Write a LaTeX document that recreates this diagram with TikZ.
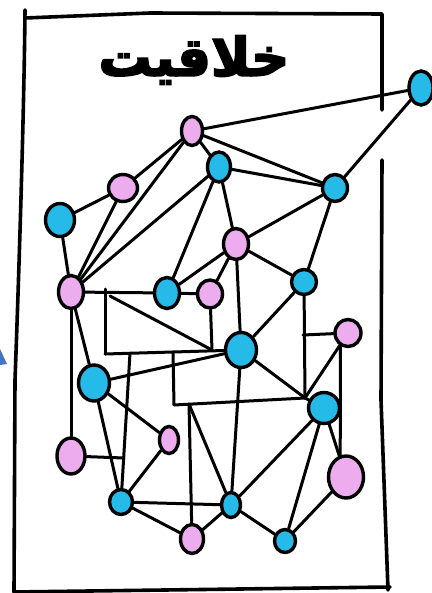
\documentclass[tikz,border=0pt]{standalone}
\usepackage{fontspec}
\usetikzlibrary{shapes.geometric}
\TeXXeTstate=1
\newfontfamily\arabicfont[Script=Arabic, BoldFeatures={FakeBold=3.5}]{DejaVu Sans}
\definecolor{cyanN}{RGB}{38,186,232}
\definecolor{pinkN}{RGB}{236,172,238}
\definecolor{tri}{RGB}{68,114,196}
\tikzset{
  nd/.style={ellipse, draw=black, line width=3.4pt, inner sep=0pt},
  cy/.style={nd, fill=cyanN},
  pk/.style={nd, fill=pinkN},
  edge/.style={line width=3pt, line cap=round},
  frame/.style={line width=3.6pt, line cap=round, line join=round}
}
\newcommand{\nodeat}[6]{\node[#1, minimum width=#5pt, minimum height=#6pt] (#2) at (#3,#4) {};}
\begin{document}
\begin{tikzpicture}[x=1pt,y=-1pt]
\useasboundingbox (0,0) rectangle (431,593);
\fill[white] (0,0) rectangle (431,593);
% frame
\draw[frame] (25,10) .. controls (24,120) and (18,300) .. (15,380) -- (14,592);
\draw[frame] (25,18) -- (150,13) -- (382,14) -- (382,110);
\draw[frame] (382,160) -- (381,400) -- (388,590);
\draw[frame] (14,592) -- (390,587);
\fill[tri] (0,349) -- (7,364) -- (0,365) -- cycle;
% title
\node (title) at (194,60) {\arabicfont\bfseries\fontsize{53}{53}\selectfont\beginR خلاقیت\endR};
% nodes
\nodeat{cy}{out}{421}{88}{24}{34}
\nodeat{pk}{P1}{192}{131}{21}{29}
\nodeat{cy}{C1}{219}{167}{23}{30}
\nodeat{cy}{C2}{335}{188}{25}{27}
\nodeat{pk}{P2}{123}{188}{29}{27}
\nodeat{cy}{C3}{60}{220}{29}{33}
\nodeat{pk}{P3}{236}{244}{25}{31}
\nodeat{pk}{P4}{71}{292}{25}{33}
\nodeat{cy}{C4}{167}{293}{25}{31}
\nodeat{pk}{P5}{210}{294}{25}{28}
\nodeat{cy}{C5}{304}{282}{25}{25}
\nodeat{pk}{P6}{348}{333}{26}{27}
\nodeat{cy}{C6}{241}{350}{31}{35}
\nodeat{cy}{C7}{94}{383}{31}{36}
\nodeat{cy}{C8}{324}{408}{31}{31}
\nodeat{pk}{P7}{169}{440}{19}{27}
\nodeat{pk}{P8}{71}{456}{28}{36}
\nodeat{pk}{P9}{346}{477}{35}{42}
\nodeat{cy}{C9}{121}{502}{23}{25}
\nodeat{cy}{C10}{231}{505}{19}{25}
\nodeat{pk}{P10}{192}{539}{23}{29}
\nodeat{cy}{C11}{285}{541}{21}{23}
% junctions
\coordinate (jA) at (105,289);
\coordinate (jB) at (105,354);
\coordinate (jD) at (110,296);
\coordinate (jC) at (212,350);
\coordinate (jE) at (130,353);
\coordinate (jF) at (124,458);
\coordinate (jG) at (173,352);
\coordinate (jH) at (174,405);
\coordinate (jI) at (189,404);
\coordinate (J8) at (305,398);
\coordinate (jK) at (303,335);
% edges
\draw[edge] (P1) -- (out);
\draw[edge] (C2) -- (out);
\draw[edge] (P1) -- (C2);
\draw[edge] (P1) -- (C1);
\draw[edge] (P1) -- (P2);
\draw[edge] (P1) -- (P4);
\draw[edge] (C1) -- (C2);
\draw[edge] (C1) -- (P4);
\draw[edge] (C1) -- (C4);
\draw[edge] (C1) -- (P3);
\draw[edge] (P2) -- (C3);
\draw[edge] (P2) -- (P4);
\draw[edge] (C3) -- (P4);
\draw[edge] (C2) -- (P3);
\draw[edge] (C2) -- (C5);
\draw[edge] (P3) -- (C5);
\draw[edge] (P3) -- (C4);
\draw[edge] (P3) -- (P5);
\draw[edge] (P3) -- (C6);
\draw[edge] (C4) -- (P5);
\draw[edge] (P4) -- (C4);
\draw[edge] (jA) -- (jB);
\draw[edge] (jD) -- (jC);
\draw[edge] (P5) -- (jC);
\draw[edge] (jB) -- (C6);
\draw[edge] (C7) -- (C6);
\draw[edge] (jE) -- (C9);
\draw[edge] (jG) -- (jH);
\draw[edge] (jH) -- (J8);
\draw[edge] (jI) -- (P10);
\draw[edge] (jI) -- (C10);
\draw[edge] (C6) -- (C10);
\draw[edge] (C6) -- (C5);
\draw[edge] (C6) -- (J8);
\draw[edge] (C5) -- (J8);
\draw[edge] (J8) -- (C8);
\draw[edge] (jK) -- (P6);
\draw[edge] (P6) -- (J8);
\draw[edge] (P6.240) -- (P9.105);
\draw[edge] (C8) -- (P9);
\draw[edge] (C8) -- (C10);
\draw[edge] (C8) -- (C11);
\draw[edge] (P9) -- (C11);
\draw[edge] (C10) -- (C11);
\draw[edge] (C10) -- (P10);
\draw[edge] (C9) -- (P10);
\draw[edge] (C9) -- (C10);
\draw[edge] (C9) -- (P7);
\draw[edge] (C7) -- (P7);
\draw[edge] (C7) -- (C9);
\draw[edge] (P8) -- (jF);
\draw[edge] (P4) -- (P8);
\draw[edge] (P4) -- (C7);
\end{tikzpicture}
\end{document}
